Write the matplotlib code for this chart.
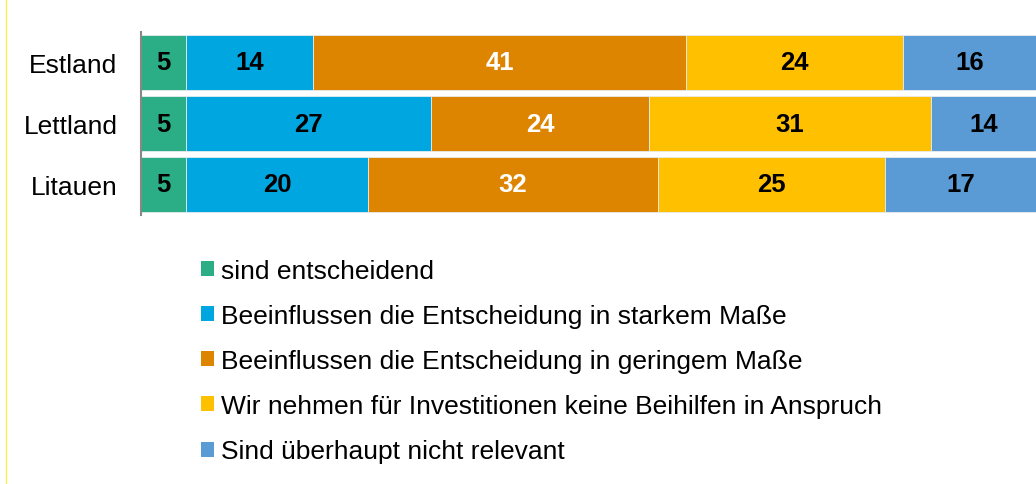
import matplotlib.pyplot as plt
from matplotlib.patches import Patch
from matplotlib.lines import Line2D

plt.rcParams['font.family'] = ['Liberation Sans', 'DejaVu Sans']

# Data
countries = ['Estland', 'Lettland', 'Litauen']
labels = ['sind entscheidend',
          'Beeinflussen die Entscheidung in starkem Maße',
          'Beeinflussen die Entscheidung in geringem Maße',
          'Wir nehmen für Investitionen keine Beihilfen in Anspruch',
          'Sind überhaupt nicht relevant']
values = [
    [5, 5, 5],
    [14, 27, 20],
    [41, 24, 32],
    [24, 31, 25],
    [16, 14, 17],
]
colors = ['#2BAE86', '#00A6E0', '#DD8500', '#FFC000', '#5B9BD5']
text_colors = ['black', 'black', 'white', 'black', 'black']

fig = plt.figure(figsize=(10.36, 4.85), dpi=100)
ax = fig.add_axes([141 / 1036, 1 - 216 / 485, 1 - 141 / 1036, 183 / 485])

y = list(range(len(countries)))
left = [0] * len(countries)
for vals, col, tc in zip(values, colors, text_colors):
    bars = ax.barh(y, vals, left=left, height=0.91, color=col,
                   edgecolor='#E8ECEF', linewidth=0.6)
    ax.bar_label(bars, labels=[str(v) for v in vals], label_type='center',
                 color=tc, fontsize=18.5, fontweight='bold')
    left = [a + b for a, b in zip(left, vals)]

ax.set_xlim(0, 98.6)
ax.set_ylim(2.5, -0.5)
ax.set_yticks(y)
ax.set_yticklabels(countries, fontsize=19)
ax.tick_params(axis='y', length=0, pad=17)
ax.set_xticks([])
for s in ['top', 'right', 'bottom']:
    ax.spines[s].set_visible(False)
ax.spines['left'].set_color('#888888')
ax.spines['left'].set_linewidth(1.5)

handles = [Patch(facecolor=c, edgecolor='none') for c in colors]
fig.legend(handles, labels, loc='upper left',
           bbox_to_anchor=(201 / 1036, 1 - 260 / 485),
           frameon=False, fontsize=19, handlelength=0.5, handleheight=0.5,
           handletextpad=0.25, labelspacing=0.8, borderpad=0, borderaxespad=0)

# thin frame line at the left edge
fig.add_artist(Line2D([5.5 / 1036, 5.5 / 1036], [0, 1], color='#F7F35A', linewidth=1))

fig.savefig('out.png', dpi=100)
